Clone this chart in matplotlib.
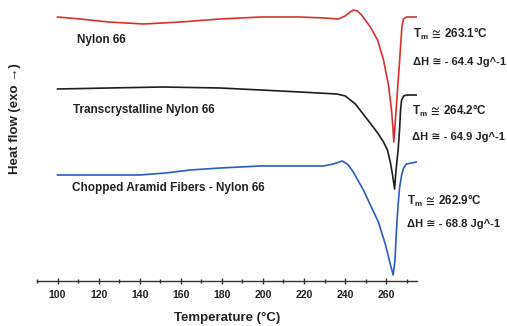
import matplotlib
matplotlib.use("Agg")
import matplotlib.pyplot as plt
from matplotlib.ticker import MultipleLocator

plt.rcParams['font.family'] = ['Liberation Sans', 'DejaVu Sans']
plt.rcParams['font.weight'] = 'bold'
plt.rcParams['mathtext.fontset'] = 'custom'
plt.rcParams['mathtext.rm'] = 'Liberation Sans:bold'
plt.rcParams['mathtext.bf'] = 'Liberation Sans:bold'
plt.rcParams['mathtext.it'] = 'Liberation Sans:bold'
plt.rcParams['mathtext.fallback'] = 'stixsans'

# ---- data (heat flow in arbitrary, offset units) ----
red_T = [100, 111, 125, 142, 160, 179, 199, 218, 230, 236.7, 240, 242.5, 244, 246, 248,
         252.3, 255.8, 258.7, 261.1, 262.6, 263.3, 263.7, 264.5, 265.5, 266.5, 267.2,
         267.7, 268.4, 269.9, 274.8]
red_H = [26.4, 26.2, 25.9, 25.7, 25.9, 26.2, 26.4, 26.4, 26.3, 26.2, 26.5, 26.9, 27.1, 27.0,
         26.6, 25.4, 24.1, 22.1, 19.6, 17.1, 15.3, 13.9, 16.1, 19.1, 21.9, 24.1, 25.5, 26.2,
         26.4, 26.4]

black_T = [100, 125, 151, 179, 199, 218, 236, 240.1, 245, 249.9, 253.3, 256.2, 258.7, 260.6,
           262.1, 263.1, 264.1, 264.8, 265.8, 266.5, 267, 267.5, 268.5, 269.9, 274.8]
black_H = [19.2, 19.3, 19.4, 19.3, 19.1, 18.9, 18.7, 18.5, 17.7, 16.4, 15.5, 14.7, 13.9, 13.1,
           11.8, 10.6, 9.2, 11.1, 13.1, 15.1, 17.1, 18.1, 18.5, 18.6, 18.6]

blue_T = [100, 120.6, 140, 152.6, 164.5, 179.2, 198.7, 218.2, 229.4, 234.3, 238.7, 241.6, 244,
          248.9, 252.3, 256.2, 259.7, 262.1, 263.4, 264.3, 265, 265.8, 266.5, 267.5, 268.5,
          269.9, 274.8]
blue_H = [10.6, 10.6, 10.6, 10.8, 11.1, 11.3, 11.5, 11.5, 11.5, 11.7, 12.0, 11.6, 10.9, 9.1,
          7.6, 5.9, 3.6, 1.6, 0.6, 2.1, 5.1, 7.6, 9.3, 10.6, 11.3, 11.7, 11.9]

sample_names = ["Nylon 66", "Transcrystalline Nylon 66", "Chopped Aramid Fibers - Nylon 66"]
tm_values = ["263.1", "264.2", "262.9"]
dh_values = ["64.4", "64.9", "68.8"]
xticks = [100, 120, 140, 160, 180, 200, 220, 240, 260]

W, H = 507, 326
fig = plt.figure(figsize=(W / 100, H / 100), dpi=100)
ax = fig.add_axes([37 / W, (H - 281) / H, (417 - 37) / W, 281 / H])

ax.plot(red_T, red_H, color='#d8312c', lw=1.2)
ax.plot(black_T, black_H, color='#1e1e1e', lw=1.2)
ax.plot(blue_T, blue_H, color='#2b5cc2', lw=1.2)

ax.set_xlim(90, 275)
ax.set_ylim(0, 28.1)
for s in ['left', 'top', 'right']:
    ax.spines[s].set_visible(False)
ax.spines['bottom'].set_color('#333333')
ax.spines['bottom'].set_linewidth(1.0)
ax.set_yticks([])
ax.set_xticks(xticks)
ax.xaxis.set_minor_locator(MultipleLocator(10))
ax.tick_params(axis='x', which='major', direction='inout', length=5, width=1,
               labelsize=7.6, pad=4, colors='#333333', labelcolor='#222222')
ax.tick_params(axis='x', which='minor', direction='inout', length=3, width=1, colors='#333333')
for lab in ax.get_xticklabels():
    lab.set_fontweight('bold')

fig.text(227 / W, 1 - 318 / H, "Temperature (°C)", ha='center', va='center',
         fontsize=9.5, fontweight='bold', color='#222222')
fig.text(15 / W, 1 - 119 / H, "Heat flow (exo →)", ha='center', va='center',
         rotation=90, fontsize=9.5, fontweight='bold', color='#222222')

name_pos = [(77, 40), (73, 110), (72, 188)]
for (x, y), name in zip(name_pos, sample_names):
    fig.text(x / W, 1 - y / H, name, ha='left', va='center', fontsize=8.5,
             fontweight='bold', color='#222222')

tm_pos = [(413, 34), (412, 111), (407, 201)]
dh_pos = [(413, 62), (412, 137), (407, 224)]
for (x, y), v in zip(tm_pos, tm_values):
    fig.text(x / W, 1 - y / H, r"T$_\mathbf{m}$$\,\cong\,$" + v + "°C", ha='left', va='center',
             fontsize=8.4, fontweight='bold', color='#222222')
for (x, y), v in zip(dh_pos, dh_values):
    fig.text(x / W, 1 - y / H, "ΔH ≅ - " + v + " Jg^-1", ha='left', va='center',
             fontsize=8.0, fontweight='bold', color='#222222')

fig.savefig("out.png", dpi=100)
